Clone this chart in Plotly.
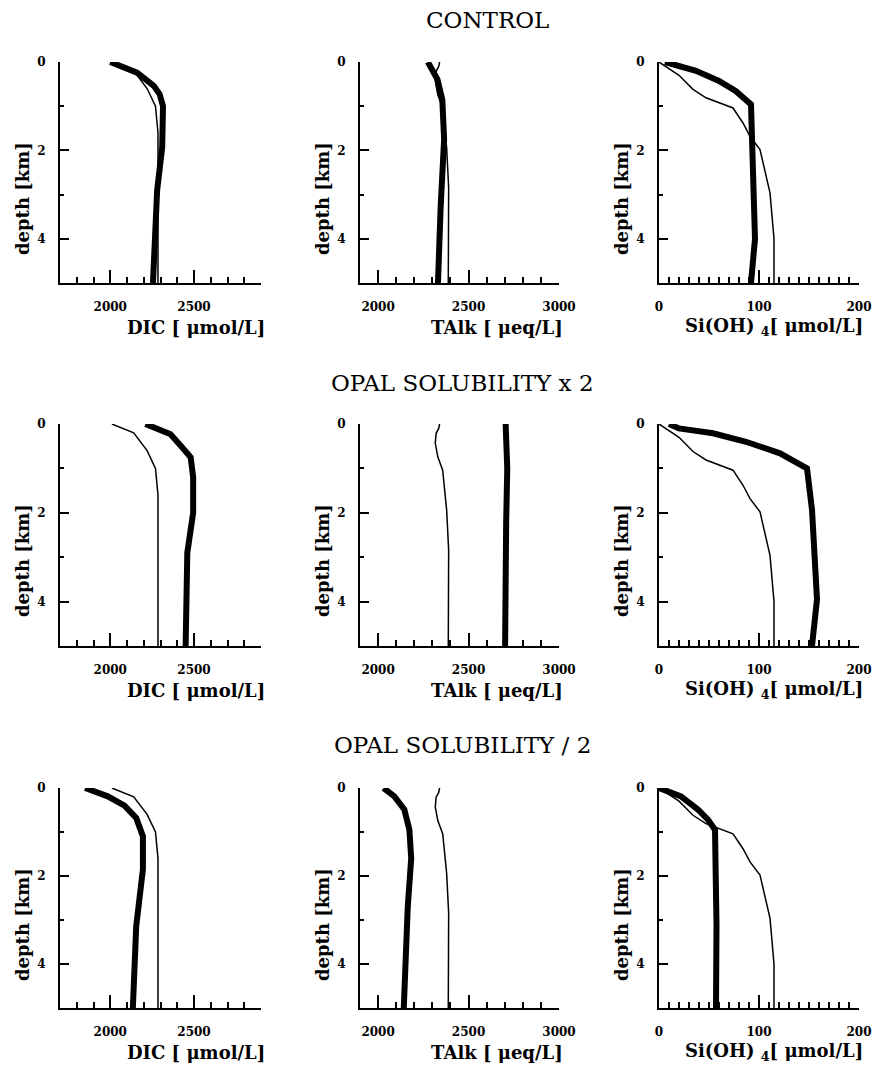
import plotly.graph_objects as go

W, H = 872, 1066

# ---------------- data ----------------
row_titles = ["CONTROL", "OPAL SOLUBILITY x 2", "OPAL SOLUBILITY / 2"]

# thin line (reference profile, same in every row)
thin_dic_depth = [0, 0.2, 0.6, 1.0, 1.6, 2, 3, 4, 5]
thin_dic = [2010, 2140, 2220, 2270, 2285, 2285, 2285, 2285, 2285]

thin_talk_depth = [0, 0.1, 0.21, 0.43, 0.74, 1.04, 1.94, 2.84, 5]
thin_talk = [2340, 2335, 2321, 2316, 2330, 2357, 2379, 2390, 2388]

thin_si_depth = [0, 0.3, 0.62, 0.81, 1.04, 1.38, 1.68, 1.98, 2.96, 4.0, 5]
thin_si = [0, 20, 34, 47, 74, 84, 91, 101, 111, 115, 115]

# thick lines (model results)
ctl_dic_depth = [0, 0.24, 0.54, 0.73, 1.0, 1.93, 2.9, 5]
ctl_dic = [2000, 2160, 2260, 2295, 2315, 2310, 2280, 2255]
x2_dic_depth = [0, 0.23, 0.53, 0.75, 1.2, 2, 2.9, 5]
x2_dic = [2210, 2360, 2430, 2480, 2495, 2495, 2460, 2450]
h2_dic_depth = [0, 0.19, 0.4, 0.68, 1.1, 1.85, 3.14, 5]
h2_dic = [1850, 1985, 2085, 2155, 2195, 2195, 2155, 2135]

ctl_talk_depth = [0, 0.39, 0.85, 1.75, 3.26, 5]
ctl_talk = [2275, 2328, 2355, 2365, 2346, 2331]
x2_talk_depth = [0, 1, 2.2, 5]
x2_talk = [2705, 2714, 2708, 2702]
h2_talk_depth = [0, 0.19, 0.49, 0.95, 1.6, 2.7, 5]
h2_talk = [2030, 2090, 2145, 2173, 2183, 2164, 2142]

ctl_si_depth = [0, 0.09, 0.2, 0.43, 0.66, 0.96, 1.75, 4.0, 5]
ctl_si = [6, 20, 37, 60, 77, 92, 93, 96, 92]
x2_si_depth = [0, 0.1, 0.21, 0.4, 0.66, 1.0, 1.93, 3.95, 5]
x2_si = [10, 20, 54, 87, 121, 148, 153, 158, 153]
h2_si_depth = [0, 0.19, 0.49, 0.72, 0.95, 3.1, 5]
h2_si = [0, 22, 39, 49, 56, 57.5, 57]

x_titles = ["DIC [ μmol/L]", "TAlk [ μeq/L]", "Si(OH) <sub>4</sub>[ μmol/L]"]
x_ranges = [[1700, 2900], [1900, 3000], [0, 200]]
x_tick0 = [2000, 2000, 0]
x_dtick = [500, 500, 100]
x_minor = [100, 100, 10]

thin_sets = [(thin_dic, thin_dic_depth), (thin_talk, thin_talk_depth), (thin_si, thin_si_depth)]
thick_sets = [
    [(ctl_dic, ctl_dic_depth), (ctl_talk, ctl_talk_depth), (ctl_si, ctl_si_depth)],
    [(x2_dic, x2_dic_depth), (x2_talk, x2_talk_depth), (x2_si, x2_si_depth)],
    [(h2_dic, h2_dic_depth), (h2_talk, h2_talk_depth), (h2_si, h2_si_depth)],
]

# ---------------- layout geometry (pixels) ----------------
col_px = [(60, 261), (360, 559), (659, 859)]
row_px = [(62, 283), (424, 646), (788, 1008)]
title_pos = [(487, 20), (462, 383), (462, 745)]

FONT = "DejaVu Serif"

fig = go.Figure()
layout = dict(
    width=W, height=H,
    margin=dict(l=0, r=0, t=0, b=0, pad=0, autoexpand=False),
    paper_bgcolor="white", plot_bgcolor="white", showlegend=False,
    annotations=[],
)

def px2x(p):
    return p / W

def px2y(p):
    return 1 - p / H

k = 0
for r in range(3):
    for c in range(3):
        k += 1
        xa = "xaxis" if k == 1 else f"xaxis{k}"
        ya = "yaxis" if k == 1 else f"yaxis{k}"
        xr = "x" if k == 1 else f"x{k}"
        yr = "y" if k == 1 else f"y{k}"
        x0, x1 = col_px[c]
        y0, y1 = row_px[r]
        layout[xa] = dict(
            domain=[px2x(x0), px2x(x1)], anchor=yr, range=x_ranges[c],
            showgrid=False, zeroline=False, showline=True, linecolor="black", linewidth=2,
            ticks="inside", ticklen=13, tickwidth=2, tickcolor="black",
            tick0=x_tick0[c], dtick=x_dtick[c], automargin=False,
            tickfont=dict(family=FONT, size=12, color="black", weight="bold"),
            ticklabelstandoff=12,
            minor=dict(ticks="inside", ticklen=6, tickwidth=2, tickcolor="black",
                       dtick=x_minor[c], tick0=x_ranges[c][0], showgrid=False),
        )
        layout[ya] = dict(
            domain=[px2y(y1), px2y(y0)], anchor=xr, range=[5, 0],
            showgrid=False, zeroline=False, showline=True, linecolor="black", linewidth=2,
            ticks="inside", ticklen=9, tickwidth=2, tickcolor="black",
            tick0=0, dtick=2, automargin=False,
            tickfont=dict(family=FONT, size=12, color="black", weight="bold"),
            ticklabelstandoff=10,
            minor=dict(ticks="inside", ticklen=4, tickwidth=2, tickcolor="black",
                       dtick=1, tick0=0, showgrid=False),
        )
        tx, td = thin_sets[c]
        fig.add_trace(go.Scatter(x=tx, y=td, mode="lines", xaxis=xr, yaxis=yr,
                                 line=dict(color="black", width=1.5)))
        hx, hd = thick_sets[r][c]
        fig.add_trace(go.Scatter(x=hx, y=hd, mode="lines", xaxis=xr, yaxis=yr,
                                 line=dict(color="black", width=6)))
        # x axis title
        layout["annotations"].append(dict(
            text=x_titles[c], xref="paper", yref="paper",
            x=px2x(x1 + 6), y=px2y(y1 + 44), xanchor="right", yanchor="middle",
            showarrow=False, font=dict(family=FONT, size=18, color="black", weight="bold")))
        # y axis title
        layout["annotations"].append(dict(
            text="depth [km]", xref="paper", yref="paper", textangle=-90,
            x=px2x(x0 - 38), y=px2y(y0 + 137), xanchor="center", yanchor="middle",
            showarrow=False, font=dict(family=FONT, size=18, color="black", weight="bold")))
    tx_, ty_ = title_pos[r]
    layout["annotations"].append(dict(
        text=row_titles[r], xref="paper", yref="paper", x=px2x(tx_), y=px2y(ty_),
        xanchor="center", yanchor="middle", showarrow=False,
        font=dict(family=FONT, size=23, color="black")))

fig.update_layout(**layout)
fig.write_html("out.html", config={"responsive": False})
